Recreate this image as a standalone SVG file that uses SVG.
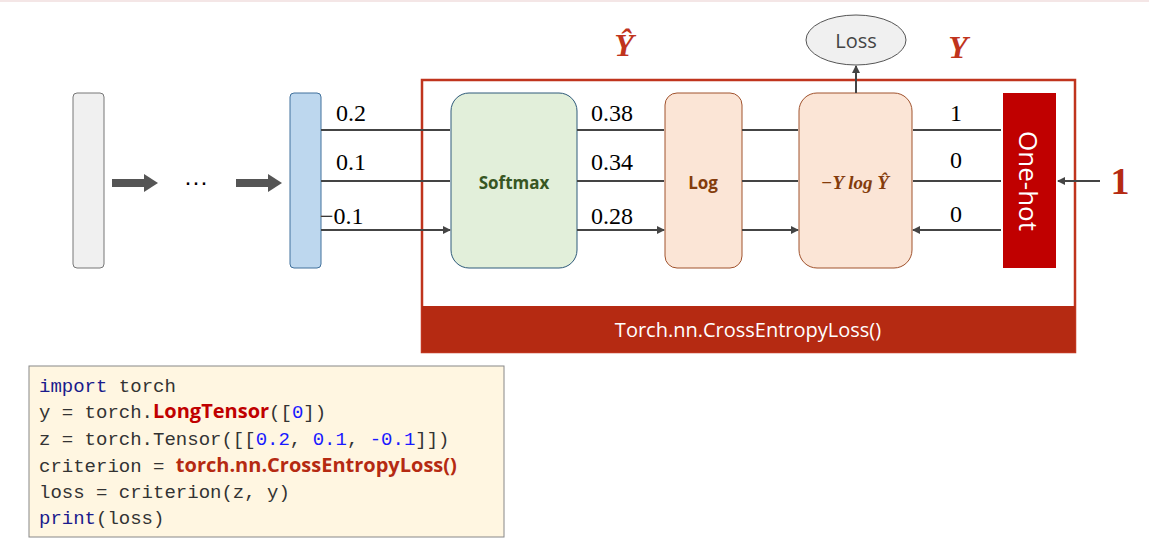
<svg xmlns="http://www.w3.org/2000/svg" width="1149" height="544" viewBox="0 0 1149 544">
<defs>
<marker id="ah" markerWidth="8" markerHeight="8" refX="7" refY="4" orient="auto" markerUnits="userSpaceOnUse"><path d="M0,0 L8,4 L0,8 z" fill="#444"/></marker>
<marker id="bh" markerWidth="14" markerHeight="18" refX="4" refY="9" orient="auto" markerUnits="userSpaceOnUse"><path d="M0,0 L14,9 L0,18 z" fill="#555"/></marker>
<style>
.c{stroke:#444;stroke-width:2;fill:none;marker-end:url(#ah)}
.n{font-family:"Liberation Serif",serif;font-size:24px;fill:#000}
.m{font-family:"Liberation Mono","DejaVu Sans Mono",monospace;font-size:19px;fill:#333}
.b{font-family:"Open Sans","Liberation Sans",sans-serif;font-weight:bold;font-size:20px}
</style>
</defs>
<rect width="1149" height="544" fill="#fff"/>
<line x1="0" y1="1" x2="1149" y2="1" stroke="#f4e6e6" stroke-width="2"/>
<g id="frame"><rect x="422" y="80" width="653" height="272" fill="none" stroke="#c0341d" stroke-width="2.5"/>
<rect x="422" y="306" width="653" height="46" fill="#b52a12"/>
<text x="748" y="337" text-anchor="middle" font-family="Open Sans,Liberation Sans,sans-serif" font-size="20" fill="#fff">Torch.nn.CrossEntropyLoss()</text></g>
<g id="input"><rect x="73" y="93" width="31" height="175" rx="4" fill="#f0f0f0" stroke="#777"/></g>
<g id="dots"><text x="196" y="190" text-anchor="middle" font-family="Liberation Sans,sans-serif" font-size="24">···</text></g>
<g id="logits"><rect x="290" y="93" width="31" height="175" rx="4" fill="#bdd7ee" stroke="#41719c"/></g>
<g id="softmax"><rect x="451" y="93" width="126" height="175" rx="18" fill="#e2efda" stroke="#2e5a7a"/><text x="514" y="189" text-anchor="middle" font-family="Open Sans,Liberation Sans,sans-serif" font-weight="bold" font-size="17" fill="#375623">Softmax</text></g>
<g id="log"><rect x="665" y="93" width="77" height="175" rx="12" fill="#fbe5d6" stroke="#a0522d"/><text x="703" y="189" text-anchor="middle" font-family="Open Sans,Liberation Sans,sans-serif" font-weight="bold" font-size="17" fill="#843c0c">Log</text></g>
<g id="nll"><rect x="799" y="93" width="113" height="175" rx="18" fill="#fbe5d6" stroke="#a0522d"/><text x="855" y="189" text-anchor="middle" font-family="Liberation Serif,serif" font-weight="bold" font-style="italic" font-size="19" fill="#843c0c">−Y log Ŷ</text></g>
<g id="onehot"><rect x="1003" y="93" width="53" height="175" fill="#c00000"/><text transform="translate(1019,181) rotate(90)" text-anchor="middle" font-family="Open Sans,Liberation Sans,sans-serif" font-size="26" fill="#fff">One-hot</text></g>
<g id="loss"><ellipse cx="856" cy="40" rx="50" ry="25" fill="#f0f0f0" stroke="#555"/><text x="856" y="48" text-anchor="middle" font-family="Open Sans,Liberation Sans,sans-serif" font-size="20" fill="#444">Loss</text></g>
<g id="labels">
<text x="624" y="56" text-anchor="middle" font-family="Liberation Serif,serif" font-weight="bold" font-style="italic" font-size="32" fill="#c0341d">Ŷ</text>
<text x="958" y="58" text-anchor="middle" font-family="Liberation Serif,serif" font-weight="bold" font-style="italic" font-size="32" fill="#c0341d">Y</text>
<text x="1120" y="194" text-anchor="middle" font-family="Liberation Serif,serif" font-weight="bold" font-size="38" fill="#b52a12">1</text>
<text class="n" x="336" y="121">0.2</text><text class="n" x="336" y="170">0.1</text><text class="n" x="320" y="224">−0.1</text>
<text class="n" x="591" y="121">0.38</text><text class="n" x="591" y="170">0.34</text><text class="n" x="591" y="224">0.28</text>
<text class="n" x="956" y="121" text-anchor="middle">1</text><text class="n" x="956" y="168" text-anchor="middle">0</text><text class="n" x="956" y="222" text-anchor="middle">0</text>
</g>
<g id="connectors">
<line x1="112" y1="183" x2="148" y2="183" stroke="#555" stroke-width="8" marker-end="url(#bh)"/>
<line x1="236" y1="183" x2="272" y2="183" stroke="#555" stroke-width="8" marker-end="url(#bh)"/>
<path class="c" d="M321,130H450M321,181H450M321,230H450"/>
<path class="c" d="M577,130H664M577,181H664M577,230H664"/>
<path class="c" d="M742,130H798M742,181H798M742,230H798"/>
<path class="c" d="M1001,130H913M1001,181H913M1001,230H913"/>
<path class="c" d="M1100,181H1058"/>
<path class="c" d="M856,93V66"/>
</g>
<g id="code"><rect x="29" y="366" width="475" height="171" fill="#fff6e1" stroke="#888"/>
<text class="m" x="39" y="392"><tspan fill="#1a1a8c">import</tspan> torch</text>
<text class="m" x="39" y="418">y = torch.<tspan class="b" fill="#c00000">LongTensor</tspan>([<tspan fill="#1a1aff">0</tspan>])</text>
<text class="m" x="39" y="445">z = torch.Tensor([[<tspan fill="#1a1aff">0.2</tspan>, <tspan fill="#1a1aff">0.1</tspan>, <tspan fill="#1a1aff">-0.1</tspan>]])</text>
<text class="m" x="39" y="472">criterion = <tspan class="b" fill="#b52a12">torch.nn.CrossEntropyLoss()</tspan></text>
<text class="m" x="39" y="498">loss = criterion(z, y)</text>
<text class="m" x="39" y="524"><tspan fill="#1a1a8c">print</tspan>(loss)</text>
</g>
</svg>
